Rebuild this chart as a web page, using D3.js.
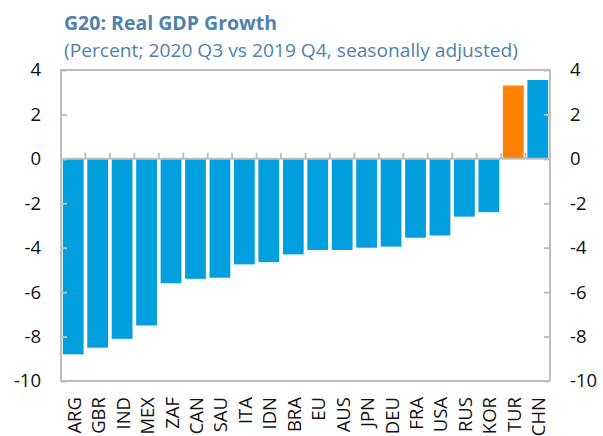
<!DOCTYPE html>
<html>
<head>
<meta charset="utf-8">
<script src="https://cdn.jsdelivr.net/npm/d3@7"></script>
<style>
  body { margin: 0; background: #fff; }
  text { font-family: "Open Sans", "Noto Sans", sans-serif; }
</style>
</head>
<body>
<svg id="chart" width="603" height="436"></svg>
<script>
// country codes along the bottom
var countries = ["ARG","GBR","IND","MEX","ZAF","CAN","SAU","ITA","IDN","BRA",
                 "EU","AUS","JPN","DEU","FRA","USA","RUS","KOR","TUR","CHN"];
// real GDP growth, 2020 Q3 vs 2019 Q4 (percent)
var growth = [-8.8,-8.5,-8.1,-7.5,-5.6,-5.4,-5.35,-4.75,-4.65,-4.3,
              -4.1,-4.1,-4.0,-3.95,-3.55,-3.45,-2.6,-2.4,3.3,3.55];
var highlight = ["TUR"];
var yTicks = [4,2,0,-2,-4,-6,-8,-10];

var svg = d3.select("#chart");
var plotL = 61, plotR = 550, plotT = 70, plotB = 381;
var grey = "#bfbfbf";

var x = d3.scaleBand().domain(countries).range([plotL, plotR]).paddingInner(0.15).paddingOuter(0.075);
var y = d3.scaleLinear().domain([-10, 4]).range([plotB, plotT]);

// title
svg.append("text").attr("x", 64).attr("y", 30)
  .attr("font-size", 19.5).attr("font-weight", "bold").attr("fill", "#4f81ad")
  .attr("textLength", 213).attr("lengthAdjust", "spacingAndGlyphs")
  .text("G20: Real GDP Growth");
svg.append("text").attr("x", 64).attr("y", 57)
  .attr("font-size", 19).attr("fill", "#4f81ad")
  .attr("textLength", 454).attr("lengthAdjust", "spacingAndGlyphs")
  .text("(Percent; 2020 Q3 vs 2019 Q4, seasonally adjusted)");

// bars
svg.append("g").selectAll("rect")
  .data(countries)
  .enter().append("rect")
  .attr("x", function(d) { return x(d); })
  .attr("width", x.bandwidth())
  .attr("y", function(d, i) { return y(Math.max(0, growth[i])); })
  .attr("height", function(d, i) { return Math.abs(y(growth[i]) - y(0)); })
  .attr("fill", function(d) { return highlight.indexOf(d) >= 0 ? "#ff8200" : "#019fde"; });

// frame
svg.append("rect").attr("x", plotL).attr("y", plotT)
  .attr("width", plotR - plotL).attr("height", plotB - plotT)
  .attr("fill", "none").attr("stroke", grey).attr("stroke-width", 2);

// left / right axes, plain hyphen for negatives
var fmt = function(d) { return String(d); };
var yl = d3.axisLeft(y).tickValues(yTicks).tickFormat(fmt).tickSize(-6).tickPadding(20);
var yr = d3.axisRight(y).tickValues(yTicks).tickFormat(fmt).tickSize(-6).tickPadding(20);
[[yl, plotL], [yr, plotR]].forEach(function(a) {
  var g = svg.append("g").attr("transform", "translate(" + a[1] + ",0)").call(a[0]);
  g.select(".domain").remove();
  g.selectAll("line").attr("stroke", grey).attr("stroke-width", 2);
  g.selectAll("text").attr("font-size", 18.5).attr("fill", "#111")
    .attr("font-family", "'Open Sans', sans-serif");
});

// zero line with category separators
var zero = svg.append("g").attr("transform", "translate(0," + y(0) + ")");
zero.append("line").attr("x1", plotL).attr("x2", plotR)
  .attr("stroke", grey).attr("stroke-width", 2);
var step = x.step();
zero.selectAll(".sep")
  .data(d3.range(1, countries.length))
  .enter().append("line")
  .attr("x1", function(i) { return x(countries[i]) - step * 0.075; })
  .attr("x2", function(i) { return x(countries[i]) - step * 0.075; })
  .attr("y1", 0).attr("y2", -6)
  .attr("stroke", grey).attr("stroke-width", 2);

// category labels
svg.append("g").selectAll("text")
  .data(countries)
  .enter().append("text")
  .attr("transform", function(d) {
    return "translate(" + (x(d) + x.bandwidth() / 2 + 7.5) + "," + (plotB + 16) + ") rotate(-90)";
  })
  .attr("text-anchor", "end")
  .attr("font-size", 18.5).attr("fill", "#111")
  .text(function(d) { return d; });
</script>
</body>
</html>
